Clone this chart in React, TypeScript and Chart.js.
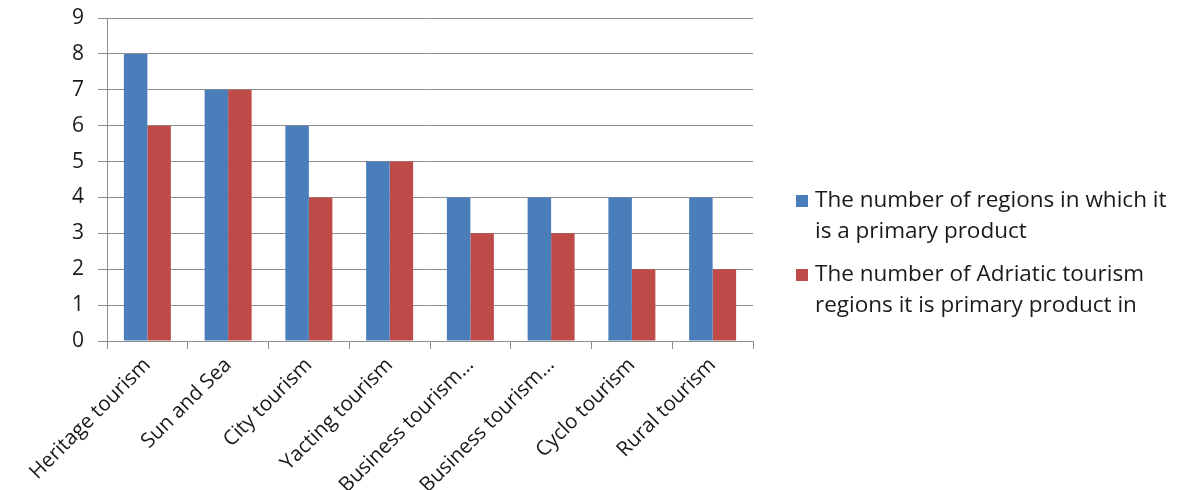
import React, { useEffect, useRef } from "react";
import { Chart, registerables } from "chart.js";

Chart.register(...registerables);

const categories = [
  "Heritage tourism",
  "Sun and Sea",
  "City tourism",
  "Yacting tourism",
  "Business tourism…",
  "Business tourism…",
  "Cyclo tourism",
  "Rural tourism",
];

const primaryRegions = [8, 7, 6, 5, 4, 4, 4, 4];
const adriaticRegions = [6, 7, 4, 5, 3, 3, 2, 2];

const seriesLabels = [
  ["The number of regions in which it", "is a primary product"],
  ["The number of Adriatic tourism", "regions it is primary product in"],
];

const seriesColors = ["#4A7EBB", "#BE4B48"];

const yTicks = [0, 1, 2, 3, 4, 5, 6, 7, 8, 9];

const FONT = "'Open Sans', sans-serif";
const GRID = "#8e8e8e";
const TEXT = "#1a1a1a";

const legendPlugin = {
  id: "sideLegend",
  afterDraw(chart: any) {
    const ctx = chart.ctx;
    const x0 = chart.chartArea.right + 43;
    const startY = 201;
    const lineH = 31;
    const groupGap = 12;
    ctx.save();
    ctx.font = `22.5px ${FONT}`;
    ctx.textBaseline = "middle";
    ctx.textAlign = "left";
    let y = startY;
    chart.data.datasets.forEach((ds: any) => {
      const lines: string[] = ds.legendLines;
      ctx.fillStyle = ds.backgroundColor;
      ctx.fillRect(x0, y - 6, 12, 12);
      ctx.fillStyle = TEXT;
      lines.forEach((ln, j) => {
        ctx.fillText(ln, x0 + 19, y + j * lineH);
      });
      y += lines.length * lineH + groupGap;
    });
    ctx.restore();
  },
};

export default function App() {
  const canvasRef = useRef<HTMLCanvasElement | null>(null);

  useEffect(() => {
    if (!canvasRef.current) return;
    const chart = new Chart(canvasRef.current, {
      type: "bar",
      data: {
        labels: categories,
        datasets: [
          {
            label: seriesLabels[0].join(" "),
            legendLines: seriesLabels[0],
            data: primaryRegions,
            backgroundColor: seriesColors[0],
            categoryPercentage: 0.582,
            barPercentage: 1,
          } as any,
          {
            label: seriesLabels[1].join(" "),
            legendLines: seriesLabels[1],
            data: adriaticRegions,
            backgroundColor: seriesColors[1],
            categoryPercentage: 0.582,
            barPercentage: 1,
          } as any,
        ],
      },
      options: {
        animation: false,
        responsive: false,
        maintainAspectRatio: false,
        layout: { padding: { top: 18, right: 430, bottom: 0, left: 0 } },
        plugins: {
          legend: { display: false },
          tooltip: { enabled: false },
        },
        scales: {
          x: {
            grid: {
              offset: true,
              drawOnChartArea: false,
              color: GRID,
              tickLength: 8,
            },
            border: { color: GRID, width: 1 },
            ticks: {
              autoSkip: false,
              maxRotation: 45,
              minRotation: 45,
              color: TEXT,
              font: { family: FONT, size: 20.5 },
              padding: 4,
            },
            afterFit(scale: any) {
              scale.height = 149;
              scale.paddingTop = 0;
            },
          },
          y: {
            min: 0,
            max: 9,
            afterBuildTicks(scale: any) {
              scale.ticks = yTicks.map((v) => ({ value: v }));
            },
            grid: { color: GRID, tickLength: 9 },
            border: { color: GRID, width: 1 },
            ticks: {
              color: TEXT,
              font: { family: FONT, size: 21 },
              padding: 14,
            },
            afterFit(scale: any) {
              scale.width = 107;
              scale.paddingTop = 0;
            },
          },
        },
      },
      plugins: [legendPlugin],
    });
    return () => chart.destroy();
  }, []);

  return (
    <div style={{ position: "absolute", left: 0, top: 0, width: 1183, height: 490, background: "#fff" }}>
      <canvas ref={canvasRef} width={1183} height={490} style={{ width: 1183, height: 490 }} />
    </div>
  );
}
